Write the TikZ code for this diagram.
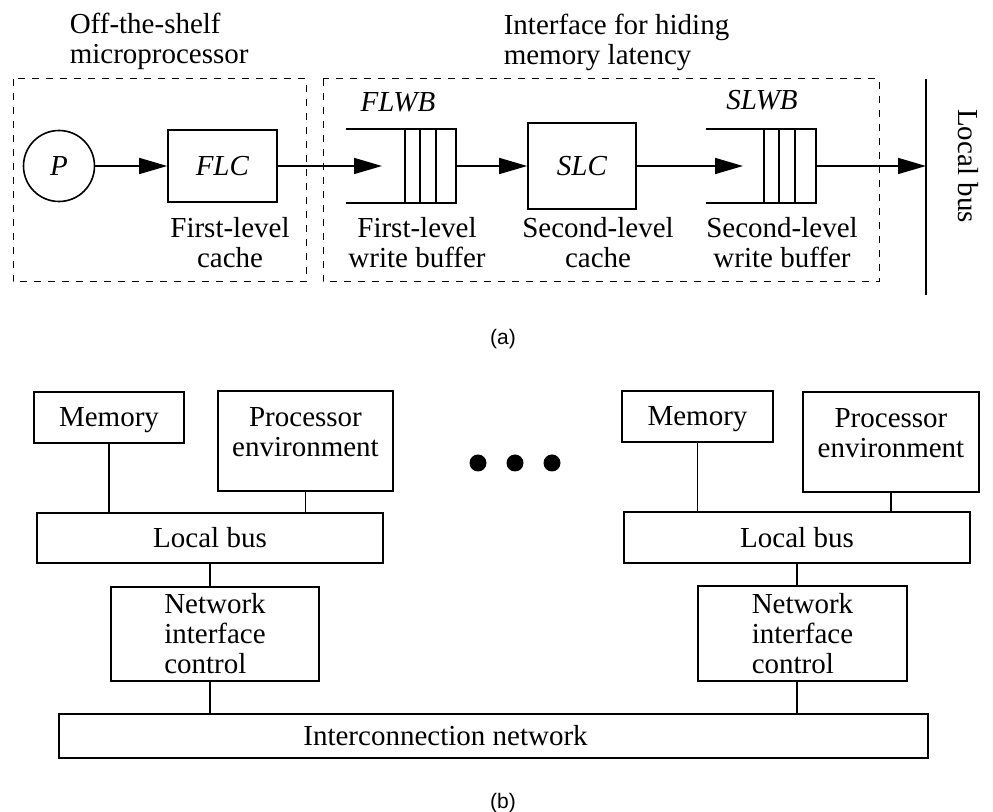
\documentclass[tikz,border=0pt]{standalone}
\usepackage{fontspec}
\setmainfont{Liberation Serif}
\setsansfont{Liberation Sans}
\usetikzlibrary{positioning,arrows.meta}

\begin{document}
\begin{tikzpicture}[
  x=0.5pt,y=-0.5pt,
  font=\fontsize{14.5}{15}\selectfont,
  line width=0.8pt,
  box/.style={draw,inner sep=3pt},
  cpu/.style={circle,draw,minimum size=35.5pt,inner sep=0pt},
  queue/.style={minimum width=54pt,minimum height=36pt,inner sep=0pt},
  region/.style={draw,line width=0.5pt,dash pattern=on 3.5pt off 3.5pt},
  lbl/.style={align=center,anchor=north,inner sep=0pt},
  figcap/.style={font=\sffamily\fontsize{10.5}{12}\selectfont},
  dot/.style={circle,fill,minimum size=8.5pt,inner sep=0pt},
  >={Triangle[length=14pt,width=8pt]}
]
  \useasboundingbox (0,0) rectangle (993,812);

  % (a) processor with write buffers
  \draw[region] (13,79) rectangle (306,282);
  \draw[region] (323,79) rectangle (879,282);
  \node[anchor=north west,align=left,inner sep=0pt] (offshelf) at (69,12) {Off-the-shelf\\microprocessor};
  \node[anchor=north west,align=left,inner sep=0pt] (iface) at (503,13) {Interface for hiding\\memory latency};

  \node[cpu] (P) at (59,166) {\textit{P}};
  \node[box,minimum width=54.5pt,minimum height=36pt] (FLC) at (222.5,166) {\textit{FLC}};
  \node[queue] (flwb) at (401,166) {};
  \node[box,minimum width=54pt,minimum height=43pt] (SLC) at (582,166) {\textit{SLC}};
  \node[queue] (slwb) at (761,166) {};
  \coordinate (flwbin) at (382,166);
  \coordinate (slwbin) at (743,166);
  \coordinate (bustop) at (926,79);
  \coordinate (busbot) at (926,295);
  \coordinate (busin) at (926,166);

  \draw (flwb.north west) -- (flwb.north east) -- (flwb.south east) -- (flwb.south west);
  \foreach \x in {405,420,436} \draw (\x,129) -- (\x,202);
  \draw (slwb.north west) -- (slwb.north east) -- (slwb.south east) -- (slwb.south west);
  \foreach \x in {764,779,795} \draw (\x,129) -- (\x,202);
  \draw (bustop) -- (busbot);

  \draw[->] (P) -- (FLC);
  \draw[->] (FLC) -- (flwbin);
  \draw[->] (flwb.east) -- (SLC);
  \draw[->] (SLC) -- (slwbin);
  \draw[->] (slwb.east) -- (busin);

  \node[anchor=base,inner sep=0pt] (flwbname) at (398,112) {\textit{FLWB}};
  \node[anchor=base,inner sep=0pt] (slwbname) at (762,110) {\textit{SLWB}};
  \node[lbl] (flctext) at (230,217) {First-level\\cache};
  \node[lbl] (flwbtext) at (417,217) {First-level\\write buffer};
  \node[lbl] (slctext) at (598,217) {Second-level\\cache};
  \node[lbl] (slwbtext) at (782,217) {Second-level\\write buffer};
  \node[rotate=-90] (busname) at (968,166) {Local bus};
  \node[figcap] (capa) at (503,339) {(a)};

  % (b) nodes on the interconnection network
  \node[box,minimum width=75pt,minimum height=25.5pt,text depth=0pt] (mem1) at (109,417.5) {Memory};
  \node[box,minimum width=87.5pt,minimum height=50pt,align=center,inner ysep=8pt,text depth=9pt] (pe1) at (305.5,441) {Processor\\environment};
  \node[box,minimum width=173pt,minimum height=25pt] (lb1) at (210,538) {Local bus};
  \node[box,minimum width=104pt,minimum height=47pt,align=left] (nic1) at (215,634) {Network\\interface\\control};

  \node[box,minimum width=75.5pt,minimum height=25.5pt,text depth=0pt] (mem2) at (697.5,416.5) {Memory};
  \node[box,minimum width=88pt,minimum height=50pt,align=center,inner ysep=8pt,text depth=9pt] (pe2) at (891,442) {Processor\\environment};
  \node[box,minimum width=173pt,minimum height=25.5pt] (lb2) at (797,537.5) {Local bus};
  \node[box,minimum width=104.5pt,minimum height=47.5pt,align=left] (nic2) at (802.5,633.5) {Network\\interface\\control};

  \node[box,minimum width=434.5pt,minimum height=22pt] (ic) at (493.5,736) {Interconnection network\hspace*{48pt}};

  \node[dot] (d1) at (478,463) {};
  \node[dot] (d2) at (515,463) {};
  \node[dot] (d3) at (552,463) {};

  \draw (mem1.south) -- (mem1.south |- lb1.north);
  \draw (pe1.south) -- (pe1.south |- lb1.north);
  \draw (lb1.south) -- (lb1.south |- nic1.north);
  \draw (lb1.south |- nic1.south) -- (lb1.south |- ic.north);
  \draw (mem2.south) -- (mem2.south |- lb2.north);
  \draw (pe2.south) -- (pe2.south |- lb2.north);
  \draw (lb2.south) -- (lb2.south |- nic2.north);
  \draw (lb2.south |- nic2.south) -- (lb2.south |- ic.north);

  \node[figcap] (capb) at (503,803) {(b)};
\end{tikzpicture}
\end{document}
